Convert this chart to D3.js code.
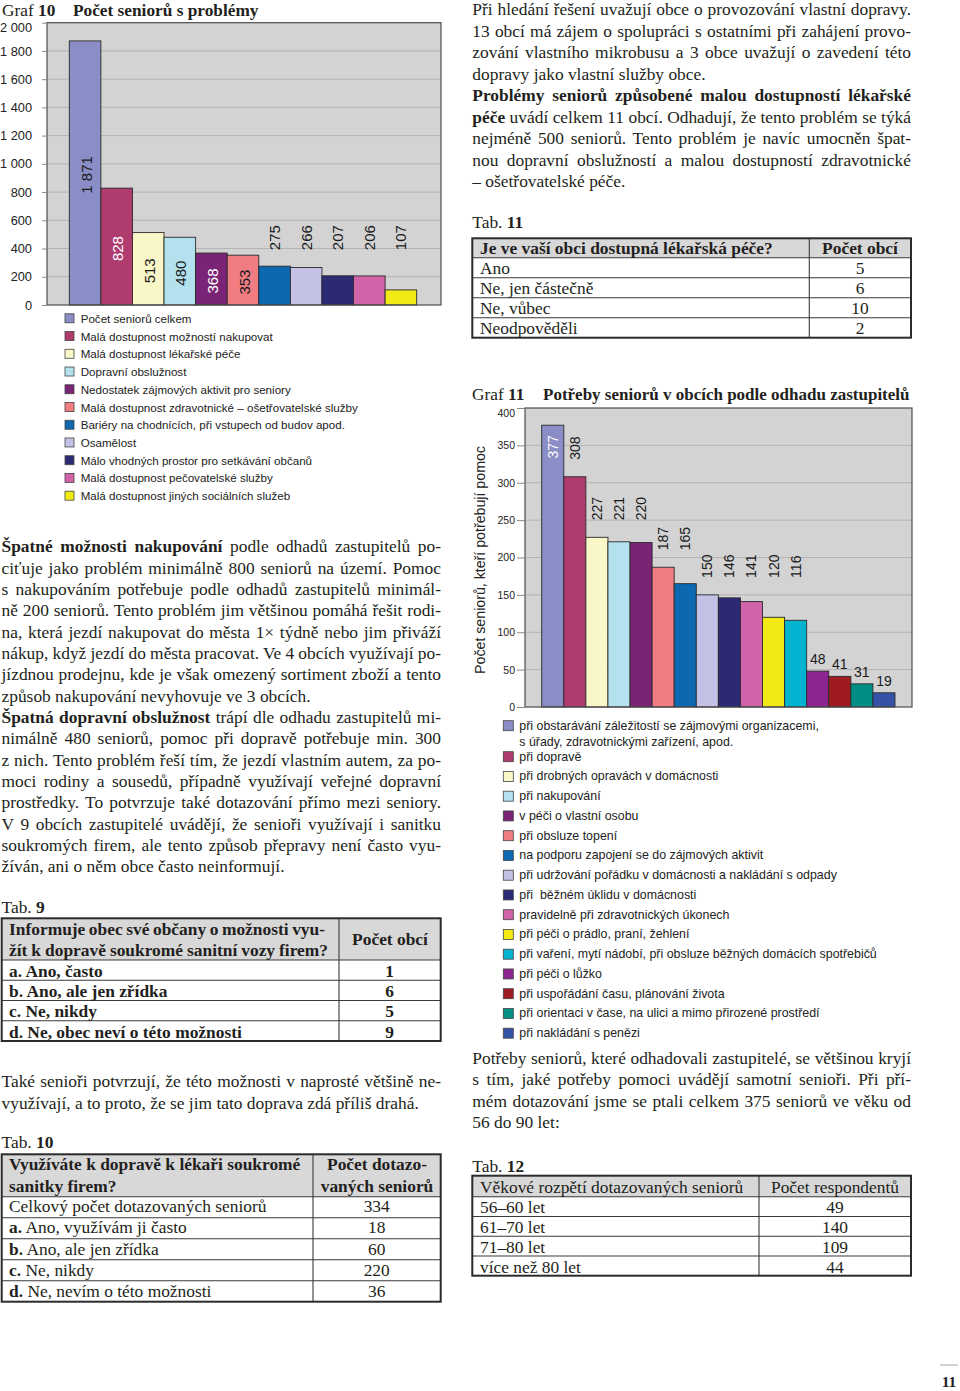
<!DOCTYPE html>
<html lang="cs"><head><meta charset="utf-8">
<script src="https://cdn.jsdelivr.net/npm/d3@7/dist/d3.min.js"></script>
<style>
html,body{margin:0;padding:0;background:#fff;}
#page{position:relative;width:960px;height:1391px;overflow:hidden;background:#fff;}
svg{position:absolute;left:0;top:0;}
.tl{position:absolute;white-space:pre;font-family:"Liberation Serif","Times New Roman",serif;font-size:17.4px;line-height:21.3px;color:#231f20;}
</style></head>
<body><div id="page"></div>
<script>
// ================= DATA =================
const cats10 = ["Počet seniorů celkem","Malá dostupnost možností nakupovat","Malá dostupnost lékařské péče","Dopravní obslužnost","Nedostatek zájmových aktivit pro seniory","Malá dostupnost zdravotnické – ošetřovatelské služby","Bariéry na chodnících, při vstupech od budov apod.","Osamělost","Málo vhodných prostor pro setkávání občanů","Malá dostupnost pečovatelské služby","Malá dostupnost jiných sociálních služeb"];
const vals10 = [1871,828,513,480,368,353,275,266,207,206,107];
const ticks10 = [0,200,400,600,800,1000,1200,1400,1600,1800,2000];
const colors10 = ["#8b8dc7","#b03b6f","#f9f6c8","#b3e1ee","#7b2475","#f17c82","#0b68b1","#c3c2e6","#2c2a75","#d163a9","#f1ea14"];
const ink10 = ["#1a1a1a","#ffffff","#1a1a1a","#1a1a1a","#ffffff","#1a1a1a","#1a1a1a","#1a1a1a","#1a1a1a","#1a1a1a","#1a1a1a"];

const cats11 = ["při obstarávání záležitostí se zájmovými organizacemi,\ns úřady, zdravotnickými zařízení, apod.","při dopravě","při drobných opravách v domácnosti","při nakupování","v péči o vlastní osobu","při obsluze topení","na podporu zapojení se do zájmových aktivit","při udržování pořádku v domácnosti a nakládání s odpady","při  běžném úklidu v domácnosti","pravidelně při zdravotnických úkonech","při péči o prádlo, praní, žehlení","při vaření, mytí nádobí, při obsluze běžných domácích spotřebičů","při péči o lůžko","při uspořádání času, plánování života","při orientaci v čase, na ulici a mimo přirozené prostředí","při nakládání s penězi"];
const vals11 = [377,308,227,221,220,187,165,150,146,141,120,116,48,41,31,19];
const ticks11 = [0,50,100,150,200,250,300,350,400];
const colors11 = ["#8b8dc7","#b03b6f","#f9f6c8","#b3e1ee","#7b2475","#f17c82","#0b68b1","#c3c2e6","#2c2a75","#d163a9","#f1ea14","#00b3cf","#8d2590","#9e1b22","#008f86","#3553a6"];
const rotGroups11 = [[1],[2,3,4],[5,6],[7,8,9,10,11]];
const flatLabels11 = [12,13,14,15];

const tab9Head = ["Informuje obec své občany o možnosti vyu-","žít k dopravě soukromé sanitní vozy firem?"];
const tab9ColHead = "Počet obcí";
const tab9Rows = ["a. Ano, často","b. Ano, ale jen zřídka","c. Ne, nikdy","d. Ne, obec neví o této možnosti"];
const tab9Vals = [1,6,5,9];

const tab10Head = ["Využíváte k dopravě k lékaři soukromé","sanitky firem?"];
const tab10ColHead = ["Počet dotazo-","vaných seniorů"];
const tab10Rows = ["Celkový počet dotazovaných seniorů","**a.** Ano, využívám ji často","**b.** Ano, ale jen zřídka","**c.** Ne, nikdy","**d.** Ne, nevím o této možnosti"];
const tab10Vals = [334,18,60,220,36];

const tab11Head = "Je ve vaší obci dostupná lékařská péče?";
const tab11ColHead = "Počet obcí";
const tab11Rows = ["Ano","Ne, jen částečně","Ne, vůbec","Neodpověděli"];
const tab11Vals = [5,6,10,2];

const tab12Head = "Věkové rozpětí dotazovaných seniorů";
const tab12ColHead = "Počet respondentů";
const tab12Rows = ["56–60 let","61–70 let","71–80 let","více než 80 let"];
const tab12Vals = [49,140,109,44];

const textLeft1 = [
 ["**Špatné možnosti nakupování** podle odhadů zastupitelů po-",1],
 ["ciťuje jako problém minimálně 800 seniorů na území. Pomoc",1],
 ["s nakupováním potřebuje podle odhadů zastupitelů minimál-",1],
 ["ně 200 seniorů. Tento problém jim většinou pomáhá řešit rodi-",1],
 ["na, která jezdí nakupovat do města 1× týdně nebo jim přiváží",1],
 ["nákup, když jezdí do města pracovat. Ve 4 obcích využívají po-",1],
 ["jízdnou prodejnu, kde je však omezený sortiment zboží a tento",1],
 ["způsob nakupování nevyhovuje ve 3 obcích.",0],
 ["**Špatná dopravní obslužnost** trápí dle odhadu zastupitelů mi-",1],
 ["nimálně 480 seniorů, pomoc při dopravě potřebuje min. 300",1],
 ["z nich. Tento problém řeší tím, že jezdí vlastním autem, za po-",1],
 ["moci rodiny a sousedů, případně využívají veřejné dopravní",1],
 ["prostředky. To potvrzuje také dotazování přímo mezi seniory.",1],
 ["V 9 obcích zastupitelé uvádějí, že senioři využívají i sanitku",1],
 ["soukromých firem, ale tento způsob přepravy není často vyu-",1],
 ["žíván, ani o něm obce často neinformují.",0]
];
const textLeft2 = [
 ["Také senioři potvrzují, že této možnosti v naprosté většině ne-",1],
 ["využívají, a to proto, že se jim tato doprava zdá příliš drahá.",0]
];
const textRight1 = [
 ["Při hledání řešení uvažují obce o provozování vlastní dopravy.",1],
 ["13 obcí má zájem o spolupráci s ostatními při zahájení provo-",1],
 ["zování vlastního mikrobusu a 3 obce uvažují o zavedení této",1],
 ["dopravy jako vlastní služby obce.",0],
 ["**Problémy seniorů způsobené malou dostupností lékařské**",1],
 ["**péče** uvádí celkem 11 obcí. Odhadují, že tento problém se týká",1],
 ["nejméně 500 seniorů. Tento problém je navíc umocněn špat-",1],
 ["nou dopravní obslužností a malou dostupností zdravotnické",1],
 ["– ošetřovatelské péče.",0]
];
const textRight2 = [
 ["Potřeby seniorů, které odhadovali zastupitelé, se většinou kryjí",1],
 ["s tím, jaké potřeby pomoci uvádějí samotní senioři. Při pří-",1],
 ["mém dotazování jsme se ptali celkem 375 seniorů ve věku od",1],
 ["56 do 90 let:",0]
];

// ================= HELPERS =================
const fmt = d3.formatLocale({decimal:",",thousands:"\u00a0",grouping:[3],currency:["",""]}).format(",d");
const SANS = "'Liberation Sans', Arial, sans-serif";
const SERIF = "'Liberation Serif', 'Times New Roman', serif";
const page = d3.select("#page");
const svg = page.append("svg").attr("width",960).attr("height",1391);

function tline(x, cy, txt, o = {}) {
  const d = page.append("div").attr("class","tl")
    .style("left", x + "px").style("top", (cy - 10.65) + "px");
  if (o.size) d.style("font-size", o.size + "px");
  if (o.bold) d.style("font-weight", "bold");
  txt.split("**").forEach((s, i) => { if (s) { const sp = d.append("span").text(s); if (i % 2) sp.style("font-weight","bold"); } });
  const w = d.node().getBoundingClientRect().width;
  if (o.width) {
    const n = (txt.match(/ /g) || []).length;
    if (n) d.style("word-spacing", ((o.width - w) / n) + "px");
  }
  if (o.center) d.style("left", (x - w / 2) + "px");
  return d;
}
function para(lines, x, cy0, pitch, width) {
  lines.forEach((l, i) => tline(x, cy0 + i * pitch, l[0], l[1] ? {width} : {}));
}

function chart(c) {
  const g = svg.append("g");
  const x = d3.scaleBand().domain(d3.range(c.vals.length)).range(c.barRange).padding(0);
  const y = d3.scaleLinear().domain([0, c.max]).range([c.f.bottom, c.f.top]);
  g.append("rect").attr("x", c.f.left).attr("y", c.f.top)
    .attr("width", c.f.right - c.f.left).attr("height", c.f.bottom - c.f.top).attr("fill", "#d3d3d3");
  g.selectAll("line.grid").data(c.ticks.filter(t => t > 0 && t < c.max)).join("line").attr("class","grid")
    .attr("x1", c.f.left).attr("x2", c.f.right).attr("y1", d => y(d)).attr("y2", d => y(d))
    .attr("stroke", "#b3b3b3").attr("stroke-width", 1);
  g.selectAll("rect.bar").data(c.vals).join("rect").attr("class","bar")
    .attr("x", (d, i) => x(i)).attr("y", d => y(d)).attr("width", x.bandwidth()).attr("height", d => y(0) - y(d))
    .attr("fill", (d, i) => c.colors[i]).attr("stroke", "#2b2b2b").attr("stroke-width", 0.9);
  g.append("rect").attr("x", c.f.left).attr("y", c.f.top)
    .attr("width", c.f.right - c.f.left).attr("height", c.f.bottom - c.f.top)
    .attr("fill", "none").attr("stroke", "#4d4d4d").attr("stroke-width", 1.2);
  const ax = g.append("g").attr("transform", `translate(${c.f.left},0)`)
    .call(d3.axisLeft(y).tickValues(c.ticks).tickSize(c.tickSize).tickPadding(c.tickPad).tickFormat(fmt));
  ax.select(".domain").remove();
  ax.attr("font-family", SANS).attr("font-size", c.tickFont);
  ax.selectAll("line").attr("stroke", "#8a8a8a");
  ax.selectAll("text").attr("fill", "#222");
  ax.selectAll(".tick").filter(d => d === c.max).select("text").attr("transform", "translate(0,5)");
  return {g, x, y};
}
function rotLabel(g, cx, yy, anchor, txt, size, fill) {
  g.append("text").attr("transform", `translate(${cx},${yy}) rotate(-90)`)
    .attr("text-anchor", anchor).attr("dominant-baseline", "central")
    .attr("font-family", SANS).attr("font-size", size).attr("fill", fill).text(txt);
}
function title(x, base, num, t, tx, size) {
  const tt = svg.append("text").attr("x", x).attr("y", base).attr("font-family", SERIF).attr("font-size", 17.3).attr("fill", "#231f20");
  tt.append("tspan").text("Graf ");
  tt.append("tspan").attr("font-weight", "bold").text(num);
  svg.append("text").attr("x", tx).attr("y", base).attr("font-family", SERIF).attr("font-size", size)
    .attr("font-weight", "bold").attr("fill", "#231f20").text(t);
}

// ================= GRAF 10 =================
title(2, 15.5, "10", "Počet seniorů s problémy", 73, 17.3);
const c10 = chart({vals: vals10, colors: colors10, ticks: ticks10, max: 2000,
  f: {left: 47, right: 441, top: 22.7, bottom: 305}, barRange: [69.3, 416.7],
  tickSize: 5, tickPad: 10, tickFont: 12.8});
{
  const {g, x, y} = c10;
  const outside = d3.range(vals10.length).filter(i => vals10[i] < 300);
  const outY = y(d3.max(outside, i => vals10[i])) - 16;
  vals10.forEach((v, i) => {
    const cx = x(i) + x.bandwidth() / 2;
    if (v >= 300) rotLabel(g, cx + 1, (y(v) + y(0)) / 2 + 2, "middle", fmt(v), 15, ink10[i]);
    else rotLabel(g, cx, outY, "start", fmt(v), 15, ink10[i]);
  });
  const lg = svg.append("g");
  cats10.forEach((t, i) => {
    const cy = 318.3 + i * 17.74;
    lg.append("rect").attr("x", 65).attr("y", cy - 4.5).attr("width", 9).attr("height", 9)
      .attr("fill", colors10[i]).attr("stroke", "#444").attr("stroke-width", 0.8);
    lg.append("text").attr("x", 80.7).attr("y", cy).attr("dominant-baseline", "central")
      .attr("font-family", SANS).attr("font-size", 11.6).attr("fill", "#222").text(t);
  });
}

// ================= GRAF 11 =================
title(472, 400, "11", "Potřeby seniorů v obcích podle odhadu zastupitelů", 543, 17.0);
const c11 = chart({vals: vals11, colors: colors11, ticks: ticks11, max: 400,
  f: {left: 525, right: 912, top: 408, bottom: 707}, barRange: [541.7, 895],
  tickSize: 8, tickPad: 2, tickFont: 10.5});
{
  const {g, x, y} = c11;
  const cxOf = i => x(i) + x.bandwidth() / 2;
  rotLabel(g, cxOf(0), y(vals11[0]) + 10, "end", fmt(vals11[0]), 14, "#ffffff");
  rotGroups11.forEach(grp => {
    const yy = y(vals11[grp[0]]) - 17;
    grp.forEach(i => rotLabel(g, cxOf(i), yy, "start", fmt(vals11[i]), 14, "#1a1a1a"));
  });
  flatLabels11.forEach(i => {
    g.append("text").attr("x", cxOf(i)).attr("y", y(vals11[i]) - 7).attr("text-anchor", "middle")
      .attr("font-family", SANS).attr("font-size", 14).attr("fill", "#1a1a1a").text(fmt(vals11[i]));
  });
  svg.append("text").attr("transform", "translate(480,560) rotate(-90)").attr("text-anchor", "middle")
    .attr("dominant-baseline", "central").attr("font-family", SANS).attr("font-size", 14.2).attr("fill", "#222")
    .text("Počet seniorů, kteří potřebují pomoc");
  const lg = svg.append("g");
  cats11.forEach((t, i) => {
    const cy = i === 0 ? 725.7 : 756.7 + (i - 1) * 19.75;
    lg.append("rect").attr("x", 503.3).attr("y", cy - 5).attr("width", 10).attr("height", 10)
      .attr("fill", colors11[i]).attr("stroke", "#444").attr("stroke-width", 0.8);
    const tx = lg.append("text").attr("x", 519.3).attr("y", cy).attr("dominant-baseline", "central")
      .attr("font-family", SANS).attr("font-size", 12.4).attr("fill", "#222").style("white-space", "pre");
    t.split("\n").forEach((s, k) => tx.append("tspan").attr("x", 519.3).attr("dy", k ? 16 : 0).text(s));
  });
}

// ================= TEXT =================
para(textLeft1, 1.5, 547, 21.33, 439.5);
para(textLeft2, 1.5, 1082, 21.3, 439.5);
para(textRight1, 472.3, 10, 21.45, 438.7);
para(textRight2, 472.3, 1059, 21.1, 438.7);

// ================= TABLES =================
function tableFrame(left, right, split, top, headH, rowH, n) {
  const g = svg.append("g");
  const bottom = top + headH + rowH * n;
  g.append("rect").attr("x", left).attr("y", top).attr("width", right - left).attr("height", headH).attr("fill", "#d8d8d8");
  d3.range(n).forEach(k => g.append("line").attr("x1", left).attr("x2", right)
    .attr("y1", top + headH + k * rowH).attr("y2", top + headH + k * rowH).attr("stroke", "#3a3a3a").attr("stroke-width", 1.1));
  g.append("line").attr("x1", split).attr("x2", split).attr("y1", top).attr("y2", bottom).attr("stroke", "#3a3a3a").attr("stroke-width", 1.1);
  g.append("rect").attr("x", left).attr("y", top).attr("width", right - left).attr("height", bottom - top)
    .attr("fill", "none").attr("stroke", "#2b2b2b").attr("stroke-width", 2);
}
function tabLabel(x, cy, n) { tline(x, cy, "Tab. **" + n + "**"); }

// Tab 9
tabLabel(1.5, 908, 9);
tableFrame(1.7, 440.7, 339, 918.3, 41.7, 20.25, 4);
tline(9, 930, tab9Head[0], {bold: true, width: 316});
tline(9, 950.5, tab9Head[1], {bold: true, width: 319});
tline(390, 940, tab9ColHead, {bold: true, center: true});
tab9Rows.forEach((r, i) => {
  tline(9, 971.5 + i * 20.25, r, {bold: true});
  tline(389.5, 971.5 + i * 20.25, String(tab9Vals[i]), {bold: true, center: true});
});

// Tab 10
tabLabel(1.5, 1143, 10);
tableFrame(1.7, 440.7, 313, 1154.3, 42.4, 21, 5);
tline(9, 1165, tab10Head[0], {bold: true});
tline(9, 1186.7, tab10Head[1], {bold: true});
tline(377, 1165, tab10ColHead[0], {bold: true, center: true});
tline(377, 1186.7, tab10ColHead[1], {bold: true, center: true});
tab10Rows.forEach((r, i) => {
  tline(9, 1206.7 + i * 21.25, r);
  tline(376.7, 1206.7 + i * 21.25, String(tab10Vals[i]), {center: true});
});

// Tab 11
tabLabel(472.3, 223, 11);
tableFrame(472.3, 911, 809.3, 238.3, 19.4, 20, 4);
tline(480, 248.3, tab11Head, {bold: true});
tline(860, 248.3, tab11ColHead, {bold: true, center: true});
tab11Rows.forEach((r, i) => {
  tline(480, 268.3 + i * 20, r);
  tline(860, 268.3 + i * 20, String(tab11Vals[i]), {center: true});
});

// Tab 12
tabLabel(472.3, 1167, 12);
tableFrame(472.3, 911, 759, 1175.7, 21, 19.75, 4);
tline(480, 1187.5, tab12Head);
tline(835, 1187.5, tab12ColHead, {center: true});
tab12Rows.forEach((r, i) => {
  tline(480, 1207.3 + i * 20, r);
  tline(835, 1207.3 + i * 20, String(tab12Vals[i]), {center: true});
});

// page number
svg.append("line").attr("x1", 940).attr("x2", 958).attr("y1", 1365).attr("y2", 1365).attr("stroke", "#c4c4c4").attr("stroke-width", 1.5);
svg.append("text").attr("x", 949).attr("y", 1387).attr("text-anchor", "middle").attr("font-family", SERIF)
  .attr("font-weight", "bold").attr("font-size", 15.5).attr("fill", "#231f20").text("11");
</script>
</body></html>
